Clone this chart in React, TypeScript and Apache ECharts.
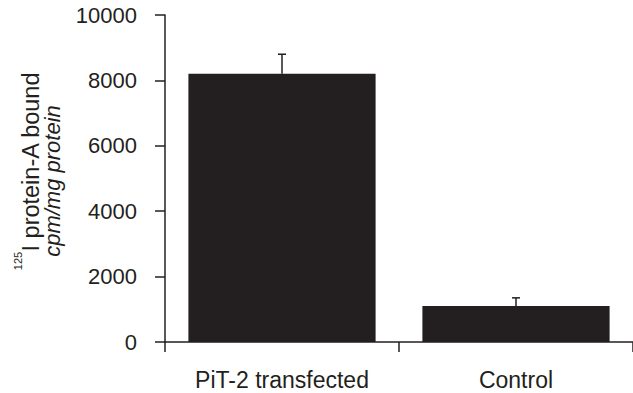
import React, { useEffect, useRef } from "react";
import * as echarts from "echarts";

const categories = ["PiT-2 transfected", "Control"];
const means = [8200, 1100];
const errorTops = [8800, 1350];
const yTicks = { min: 0, max: 10000, interval: 2000 };

const FONT = "'Liberation Sans', Arial, Helvetica, sans-serif";
const INK = "#231f20";

export default function App() {
  const ref = useRef<HTMLDivElement>(null);
  useEffect(() => {
    document.body.style.margin = "0";
    if (!ref.current) return;
    const chart = echarts.init(ref.current, null, { renderer: "svg" });
    const errData = categories.map((_, i) => [i, means[i], errorTops[i]]);
    chart.setOption({
      animation: false,
      backgroundColor: "#ffffff",
      grid: { left: 165, right: 0, top: 15, bottom: 51, containLabel: false },
      xAxis: {
        type: "category",
        data: categories,
        axisLine: { show: true, lineStyle: { color: INK, width: 1.5 } },
        axisTick: { show: true, inside: false, length: 10, alignWithLabel: false, lineStyle: { color: INK, width: 1.5 } },
        axisLabel: { fontSize: 23, color: INK, fontFamily: FONT, margin: 26 },
        splitLine: { show: false },
      },
      yAxis: {
        type: "value",
        min: yTicks.min,
        max: yTicks.max,
        interval: yTicks.interval,
        axisLine: { show: true, lineStyle: { color: INK, width: 1.5 } },
        axisTick: { show: true, inside: false, length: 10, lineStyle: { color: INK, width: 1.5 } },
        axisLabel: { fontSize: 22, color: INK, fontFamily: FONT, margin: 28, formatter: (v: number) => String(v) },
        splitLine: { show: false },
      },
      series: [
        {
          type: "bar",
          data: means,
          barWidth: "80%",
          itemStyle: { color: INK },
        },
        {
          type: "custom",
          data: errData,
          z: 5,
          renderItem: (params: any, api: any) => {
            const x = api.value(0);
            const top = api.coord([x, api.value(2)]);
            const base = api.coord([x, api.value(1)]);
            const half = 4;
            const style = { stroke: INK, lineWidth: 1.5 };
            return {
              type: "group",
              children: [
                { type: "line", shape: { x1: top[0], y1: base[1], x2: top[0], y2: top[1] }, style },
                { type: "line", shape: { x1: top[0] - half, y1: top[1], x2: top[0] + half, y2: top[1] }, style },
              ],
            };
          },
        },
      ],
      graphic: [
        {
          type: "text",
          x: 31,
          y: 162,
          rotation: Math.PI / 2,
          style: {
            text: "I protein-A bound",
            fontSize: 23.5,
            fontFamily: FONT,
            fill: INK,
            align: "center",
            verticalAlign: "middle",
          },
        },
        {
          type: "text",
          x: 18,
          y: 261,
          rotation: Math.PI / 2,
          style: {
            text: "125",
            fontSize: 11,
            fontFamily: FONT,
            fill: INK,
            align: "center",
            verticalAlign: "middle",
          },
        },
        {
          type: "text",
          x: 52,
          y: 181,
          rotation: Math.PI / 2,
          style: {
            text: "cpm/mg protein",
            fontSize: 22,
            fontStyle: "italic",
            fontFamily: FONT,
            fill: INK,
            align: "center",
            verticalAlign: "middle",
          },
        },
      ],
    });
    return () => chart.dispose();
  }, []);
  return <div ref={ref} style={{ width: 633, height: 393 }} />;
}
